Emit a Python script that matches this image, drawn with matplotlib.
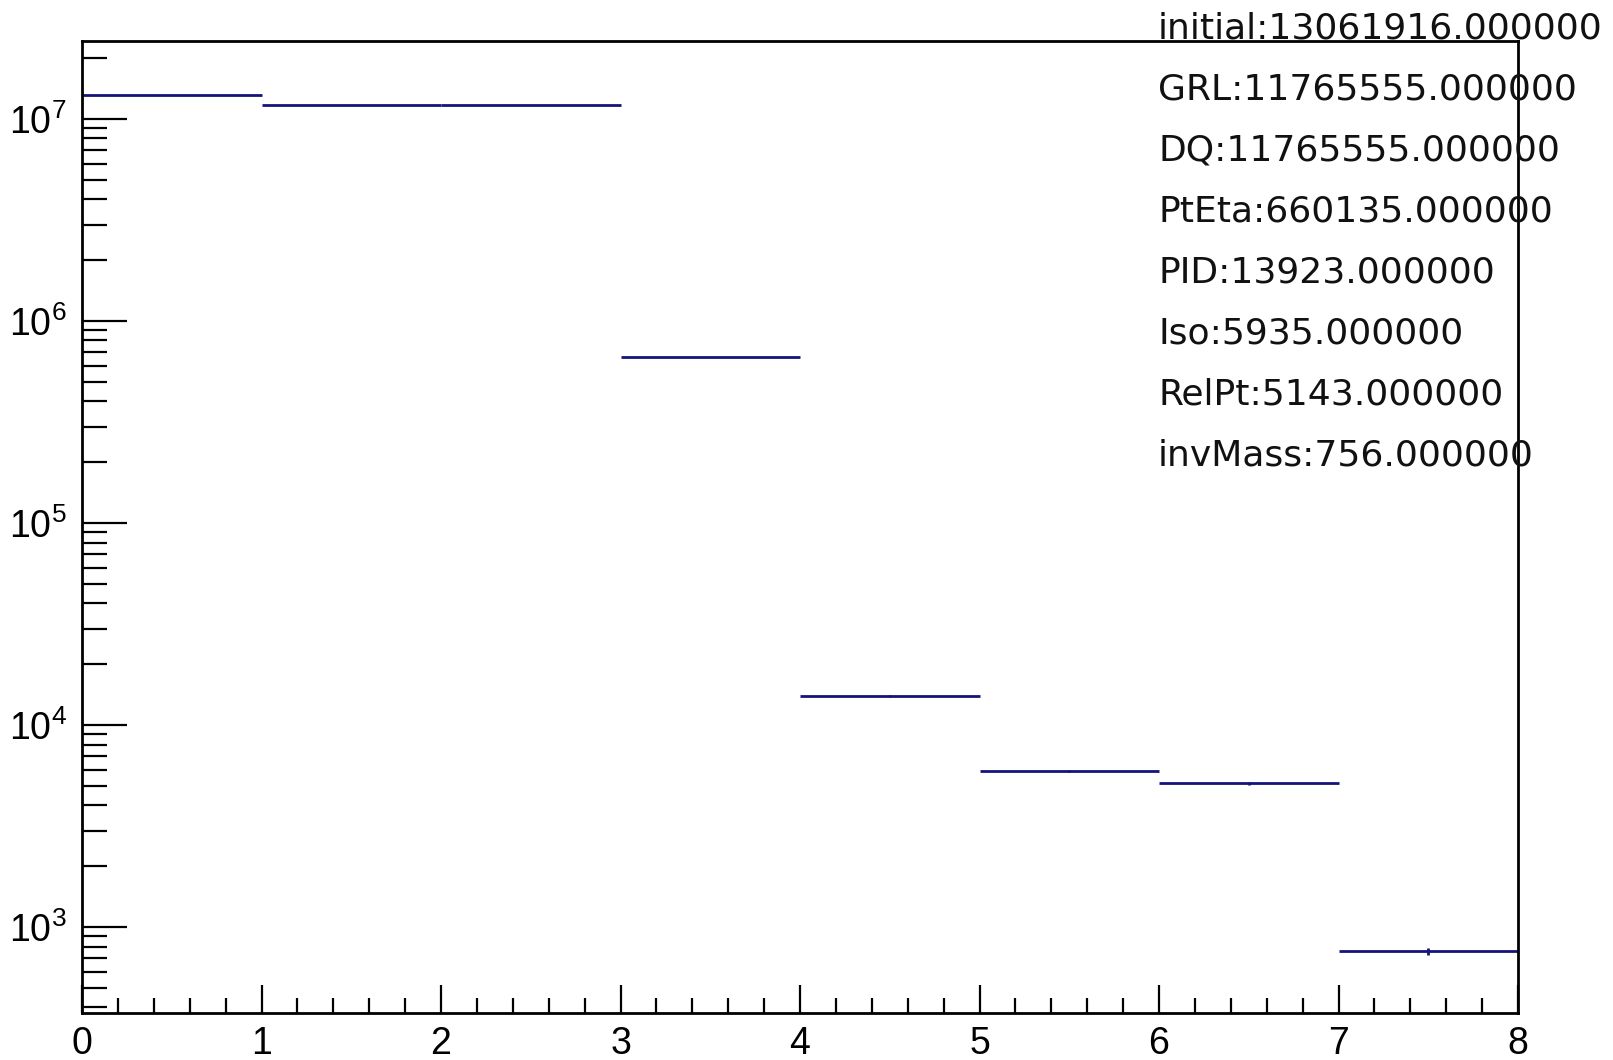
import numpy as np
import matplotlib
matplotlib.use("Agg")
import matplotlib.pyplot as plt
from matplotlib.ticker import FixedLocator, FixedFormatter, MultipleLocator, LogLocator, NullFormatter

plt.rcParams['font.family'] = ['Liberation Sans', 'DejaVu Sans']
plt.rcParams['mathtext.fontset'] = 'custom'
plt.rcParams['mathtext.rm'] = 'Liberation Sans'
plt.rcParams['mathtext.it'] = 'Liberation Sans'
plt.rcParams['mathtext.bf'] = 'Liberation Sans'

# Data
cut_names = ["initial", "GRL", "DQ", "PtEta", "PID", "Iso", "RelPt", "invMass"]
counts = [13061916, 11765555, 11765555, 660135, 13923, 5935, 5143, 756]
bin_edges = [0, 1, 2, 3, 4, 5, 6, 7, 8]
y_major = [1e3, 1e4, 1e5, 1e6, 1e7]
y_labels = ["$10^{3}$", "$10^{4}$", "$10^{5}$", "$10^{6}$", "$10^{7}$"]
x_major = [0, 1, 2, 3, 4, 5, 6, 7, 8]

W, H = 1613, 1060
fig = plt.figure(figsize=(W / 100, H / 100), dpi=100)
L, R, B, T = 82, 1518, 1013, 41
ax = fig.add_axes([L / W, 1 - B / H, (R - L) / W, (B - T) / H])

edges = np.array(bin_edges, dtype=float)
centers = 0.5 * (edges[:-1] + edges[1:])
half = 0.5 * (edges[1:] - edges[:-1])
vals = np.array(counts, dtype=float)
col = '#14147a'
ax.errorbar(centers, vals, xerr=half, yerr=np.sqrt(vals), fmt='none',
            ecolor=col, elinewidth=2, capsize=0)

ax.set_yscale('log')
ax.set_xlim(0, 8)
ax.set_ylim(375, 2.43e7)

ax.yaxis.set_major_locator(FixedLocator(y_major))
ax.yaxis.set_major_formatter(FixedFormatter(y_labels))
ax.yaxis.set_minor_locator(LogLocator(base=10, subs=np.arange(2, 10), numticks=20))
ax.yaxis.set_minor_formatter(NullFormatter())
ax.xaxis.set_major_locator(FixedLocator(x_major))
ax.xaxis.set_minor_locator(MultipleLocator(0.2))

for s in ax.spines.values():
    s.set_linewidth(2)
ax.tick_params(axis='both', which='both', direction='in', top=False, right=False, color='black')
ax.tick_params(axis='y', which='major', length=45 * 0.72, width=1.6, labelsize=27, pad=11)
ax.tick_params(axis='y', which='minor', length=25 * 0.72, width=1.6)
ax.tick_params(axis='x', which='major', length=28 * 0.72, width=1.6, labelsize=27, pad=9)
ax.tick_params(axis='x', which='minor', length=15 * 0.72, width=1.6)

for i, (n, c) in enumerate(zip(cut_names, counts)):
    yb = 38.5 + 61 * i
    fig.text(1158 / W, 1 - yb / H, f"{n}:{c:.6f}", fontsize=26, va='baseline', ha='left',
             color='#111111', family=['DejaVu Sans'])

fig.savefig("out.png", dpi=100)
